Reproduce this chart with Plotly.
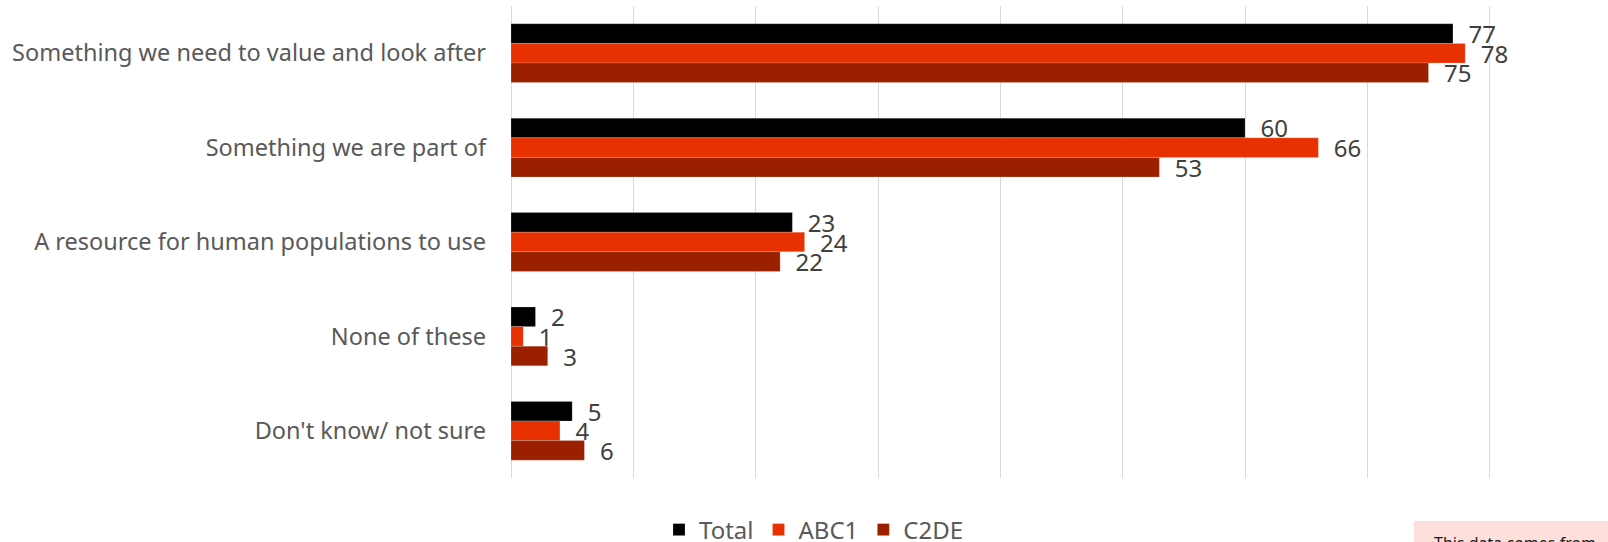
import plotly.graph_objects as go

categories = [
    "Something we need to value and look after",
    "Something we are part of",
    "A resource for human populations to use",
    "None of these",
    "Don't know/ not sure",
]
total = [77, 60, 23, 2, 5]
abc1 = [78, 66, 24, 1, 4]
c2de = [75, 53, 22, 3, 6]

series = [("Total", total, "#000000"), ("ABC1", abc1, "#E83100"), ("C2DE", c2de, "#9A2000")]

W, H = 1608, 542
L = 510.7
UNIT = 12.24
XMAX = 80.6
R = L + XMAX * UNIT
T, B = 6.0, 478.0

fig = go.Figure()
for name, vals, col in series:
    fig.add_trace(go.Bar(
        name=name, y=categories, x=vals, orientation="h",
        marker=dict(color=col, line=dict(color="rgba(255,255,255,0.35)", width=0.5)),
        text=["\u00a0\u00a0" + str(v) for v in vals],
        textposition="outside", cliponaxis=False, constraintext="none",
        textfont=dict(size=24, color="#404040", family="Noto Sans"),
        hoverinfo="skip",
    ))

pw = R - L
ph = B - T
fig.update_layout(
    width=W, height=H,
    margin=dict(l=L, r=W - R, t=T, b=H - B, pad=0),
    barmode="group", bargap=0.377, bargroupgap=0,
    plot_bgcolor="white", paper_bgcolor="white",
    font=dict(family="Noto Sans", color="#595959"),
    xaxis=dict(range=[0, XMAX], dtick=10, showticklabels=False, showgrid=True,
               gridcolor="#d9d9d9", gridwidth=1, zeroline=True, zerolinecolor="#d9d9d9",
               zerolinewidth=1, fixedrange=True),
    yaxis=dict(autorange="reversed", tickfont=dict(size=23.5, color="#595959"),
               ticklabelstandoff=24, showgrid=False, showline=False, fixedrange=True),
    legend=dict(orientation="h", xref="container", yref="container",
                x=814 / W, xanchor="center", y=1 - 530 / H, yanchor="middle",
                font=dict(size=24, color="#595959"), itemwidth=30,
                traceorder="normal"),
    showlegend=True,
)

# pink note box at bottom right
fig.add_shape(type="rect", xref="paper", yref="paper", layer="below",
              x0=(1414 - L) / pw, x1=(1620 - L) / pw,
              y0=(B - 521) / ph, y1=(B - 560) / ph,
              fillcolor="#FDE0DC", line=dict(width=0))
fig.add_annotation(xref="paper", yref="paper", x=(1432 - L) / pw, y=(B - 530) / ph,
                   xanchor="left", yanchor="top", showarrow=False,
                   text="This data comes from", font=dict(size=16, color="#1a1a1a", family="Noto Sans"))

fig.write_html("out.html")
